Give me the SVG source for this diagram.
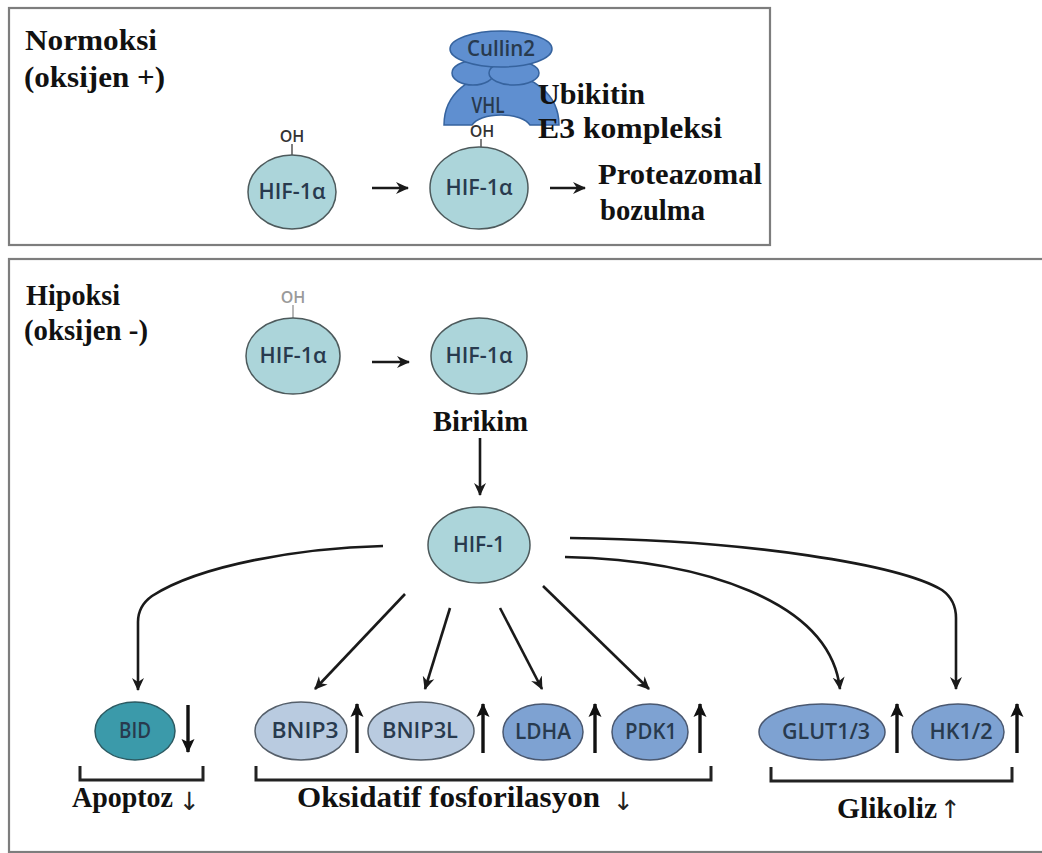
<svg xmlns="http://www.w3.org/2000/svg" width="1042" height="853" viewBox="0 0 1042 853">
<style>
.frame{fill:none;stroke:#7d7d7d;stroke-width:2.2}
.lbl{font-family:"Liberation Serif","Times New Roman",serif;font-weight:bold;font-size:30px;fill:#111}
.arr{font-family:"DejaVu Sans",sans-serif;font-weight:normal;font-size:25px;fill:#222}
.nt{font-family:"Open Sans","Liberation Sans",sans-serif;font-weight:600;font-size:21px;fill:#283a4e;text-anchor:middle}
.oh{font-family:"Open Sans","Liberation Sans",sans-serif;font-weight:600;font-size:16px;fill:#333;text-anchor:middle}
.hif{fill:#acd5da;stroke:#4d5a5c;stroke-width:1.5}
.cul{fill:#5f8fd0;stroke:#36639e;stroke-width:1.5}
.lt{fill:#b9cbe0;stroke:#555f6a;stroke-width:1.5}
.md{fill:#7ea2d2;stroke:#4a5870;stroke-width:1.5}
.bid{fill:#3b9aaa;stroke:#2c5a62;stroke-width:1.5}
.con{fill:none;stroke:#1a1a1a;stroke-width:2.6}
.ind{fill:none;stroke:#111;stroke-width:3.4}
.br{fill:none;stroke:#222;stroke-width:3}
</style>
<defs>
<marker id="ah" markerUnits="userSpaceOnUse" markerWidth="14" markerHeight="14" refX="12" refY="7" orient="auto">
<path d="M0,1 L13,7 L0,13 L4,7 Z" fill="#1a1a1a"/>
</marker>
<marker id="ah2" markerUnits="userSpaceOnUse" markerWidth="16" markerHeight="16" refX="14" refY="8" orient="auto">
<path d="M1,1.5 L15,8 L1,14.5 L4,8 Z" fill="#111"/>
</marker>
</defs>
<rect width="1042" height="853" fill="#ffffff"/>

<g id="frames">
<rect class="frame" x="9" y="8" width="761" height="237"/>
<rect class="frame" x="9" y="259" width="1050" height="593"/>
</g>

<g id="normoksi-label">
<text class="lbl" x="25" y="50" textLength="132" lengthAdjust="spacingAndGlyphs">Normoksi</text>
<text class="lbl" x="24" y="87" textLength="141" lengthAdjust="spacingAndGlyphs">(oksijen +)</text>
</g>

<g id="n-hif1">
<text class="oh" x="292" y="142">OH</text>
<line x1="292" y1="144" x2="292" y2="155" stroke="#555" stroke-width="1.5"/>
<ellipse class="hif" cx="292" cy="192" rx="44" ry="37"/>
<text class="nt" x="292" y="199" textLength="67" lengthAdjust="spacingAndGlyphs">HIF-1α</text>
</g>

<g id="e3-complex">
<path class="cul" d="M444,125 C444,94 470,74 501,74 C532,74 559,94 559,125 L530,125 C526,119 515,115 501,115 C487,115 476,119 472,125 Z"/>
<text class="nt" x="488" y="113" textLength="33" lengthAdjust="spacingAndGlyphs">VHL</text>
<ellipse class="cul" cx="473" cy="73" rx="21" ry="12"/>
<ellipse class="cul" cx="514" cy="73" rx="25" ry="12"/>
<ellipse class="cul" cx="501" cy="49" rx="51" ry="18"/>
<text class="nt" x="501" y="56" textLength="68" lengthAdjust="spacingAndGlyphs">Cullin2</text>
</g>

<g id="n-hif2">
<text class="oh" x="482" y="137">OH</text>
<line x1="481" y1="139" x2="481" y2="147" stroke="#555" stroke-width="1.5"/>
<ellipse class="hif" cx="479" cy="188" rx="49" ry="41"/>
<text class="nt" x="479" y="195" textLength="67" lengthAdjust="spacingAndGlyphs">HIF-1α</text>
</g>

<g id="ubikitin-label">
<text class="lbl" x="538" y="104" textLength="107" lengthAdjust="spacingAndGlyphs">Ubikitin</text>
<text class="lbl" x="538" y="138" textLength="184" lengthAdjust="spacingAndGlyphs">E3 kompleksi</text>
</g>

<g id="proteazomal-label">
<text class="lbl" x="598" y="184" textLength="164" lengthAdjust="spacingAndGlyphs">Proteazomal</text>
<text class="lbl" x="600" y="220" textLength="105" lengthAdjust="spacingAndGlyphs">bozulma</text>
</g>

<g id="hipoksi-label">
<text class="lbl" x="26" y="305" textLength="94" lengthAdjust="spacingAndGlyphs">Hipoksi</text>
<text class="lbl" x="24" y="340" textLength="124" lengthAdjust="spacingAndGlyphs">(oksijen -)</text>
</g>

<g id="h-hif1">
<text class="oh" x="293" y="303" style="fill:#9a9a9a">OH</text>
<line x1="293" y1="305" x2="293" y2="318" stroke="#a0a0a0" stroke-width="1.5"/>
<ellipse class="hif" cx="293" cy="356" rx="47" ry="38"/>
<text class="nt" x="293" y="363" textLength="67" lengthAdjust="spacingAndGlyphs">HIF-1α</text>
</g>

<g id="h-hif2">
<ellipse class="hif" cx="479" cy="356" rx="48" ry="38"/>
<text class="nt" x="479" y="363" textLength="67" lengthAdjust="spacingAndGlyphs">HIF-1α</text>
<text class="lbl" x="433" y="431" textLength="95" lengthAdjust="spacingAndGlyphs">Birikim</text>
</g>

<g id="hif1">
<ellipse class="hif" cx="479" cy="545" rx="51" ry="38"/>
<text class="nt" x="479" y="552" textLength="52" lengthAdjust="spacingAndGlyphs">HIF-1</text>
</g>

<g id="genes">
<g id="bid"><ellipse class="bid" cx="135" cy="731" rx="40" ry="29"/><text class="nt" x="135" y="738" textLength="32" lengthAdjust="spacingAndGlyphs">BID</text></g>
<g id="bnip3"><ellipse class="lt" cx="301" cy="731" rx="46" ry="29"/><text class="nt" x="305" y="738" textLength="67" lengthAdjust="spacingAndGlyphs">BNIP3</text></g>
<g id="bnip3l"><ellipse class="lt" cx="421" cy="731" rx="53" ry="29"/><text class="nt" x="420" y="738" textLength="76" lengthAdjust="spacingAndGlyphs">BNIP3L</text></g>
<g id="ldha"><ellipse class="md" cx="543" cy="732" rx="40" ry="28"/><text class="nt" x="543" y="739" textLength="56" lengthAdjust="spacingAndGlyphs">LDHA</text></g>
<g id="pdk1"><ellipse class="md" cx="650" cy="732" rx="38" ry="28"/><text class="nt" x="651" y="739" textLength="52" lengthAdjust="spacingAndGlyphs">PDK1</text></g>
<g id="glut"><ellipse class="md" cx="822" cy="732" rx="63" ry="28"/><text class="nt" x="826" y="739" textLength="88" lengthAdjust="spacingAndGlyphs">GLUT1/3</text></g>
<g id="hk"><ellipse class="md" cx="958" cy="732" rx="46" ry="28"/><text class="nt" x="961" y="739" textLength="63" lengthAdjust="spacingAndGlyphs">HK1/2</text></g>
</g>

<g id="connectors">
<line class="con" x1="372" y1="188" x2="408" y2="188" marker-end="url(#ah)"/>
<line class="con" x1="550" y1="188" x2="585" y2="188" marker-end="url(#ah)"/>
<line class="con" x1="372" y1="362" x2="409" y2="362" marker-end="url(#ah)"/>
<line class="con" x1="480" y1="438" x2="480" y2="495" marker-end="url(#ah)"/>
<path class="con" d="M383,546 C300,548 200,565 152,596 Q138,606 138,622 L138,690" marker-end="url(#ah)"/>
<line class="con" x1="405" y1="594" x2="315" y2="689" marker-end="url(#ah)"/>
<line class="con" x1="450" y1="608" x2="425" y2="689" marker-end="url(#ah)"/>
<line class="con" x1="500" y1="608" x2="542" y2="689" marker-end="url(#ah)"/>
<line class="con" x1="543" y1="586" x2="649" y2="689" marker-end="url(#ah)"/>
<path class="con" d="M565,557 C700,560 830,600 840,689" marker-end="url(#ah)"/>
<path class="con" d="M570,538 C750,540 900,565 942,590 Q956,600 956,618 L956,689" marker-end="url(#ah)"/>
</g>

<g id="indicators">
<line class="ind" x1="188" y1="705" x2="188" y2="752" marker-end="url(#ah2)"/>
<line class="ind" x1="357" y1="753" x2="357" y2="704" marker-end="url(#ah2)"/>
<line class="ind" x1="483" y1="753" x2="483" y2="704" marker-end="url(#ah2)"/>
<line class="ind" x1="595" y1="753" x2="595" y2="704" marker-end="url(#ah2)"/>
<line class="ind" x1="700" y1="753" x2="700" y2="704" marker-end="url(#ah2)"/>
<line class="ind" x1="897" y1="753" x2="897" y2="704" marker-end="url(#ah2)"/>
<line class="ind" x1="1017" y1="753" x2="1017" y2="704" marker-end="url(#ah2)"/>
</g>

<g id="groups">
<path class="br" d="M80,766 L80,780 L203,780 L203,766"/>
<path class="br" d="M256,766 L256,780 L711,780 L711,766"/>
<path class="br" d="M771,767 L771,781 L1012,781 L1012,767"/>
<text class="lbl" x="72" y="807"><tspan textLength="101" lengthAdjust="spacingAndGlyphs">Apoptoz</tspan><tspan class="arr" x="179" y="810">↓</tspan></text>
<text class="lbl" x="297" y="807"><tspan textLength="303" lengthAdjust="spacingAndGlyphs">Oksidatif fosforilasyon</tspan><tspan class="arr" x="613" y="810">↓</tspan></text>
<text class="lbl" x="837" y="818"><tspan textLength="100" lengthAdjust="spacingAndGlyphs">Glikoliz</tspan><tspan class="arr" x="940" y="818">↑</tspan></text>
</g>
</svg>
